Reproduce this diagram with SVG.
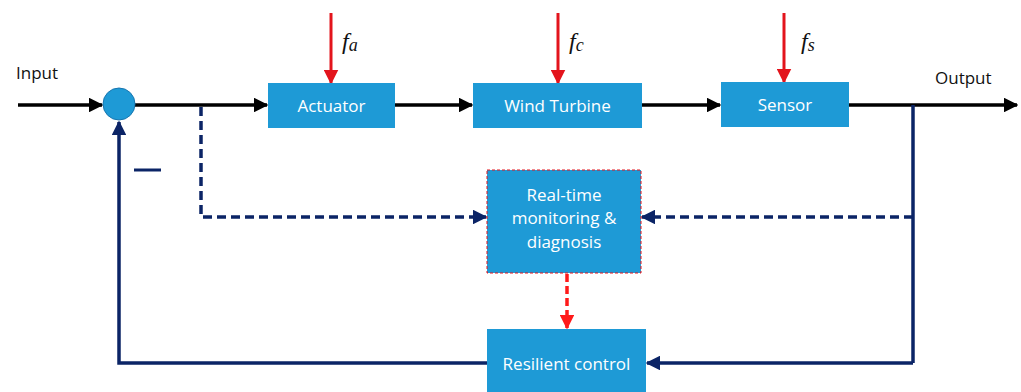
<svg xmlns="http://www.w3.org/2000/svg" width="1021" height="392" viewBox="0 0 1021 392">
<defs>
<style>
.box{fill:#1e9ad6;}
.lbl{font-family:"Open Sans","Liberation Sans",sans-serif;font-size:17px;fill:#ffffff;text-anchor:middle;}
.io{font-family:"Open Sans","Liberation Sans",sans-serif;font-size:17px;fill:#111111;}
.blk{stroke:#000000;stroke-width:3.5;fill:none;}
.navy{stroke:#0b2466;stroke-width:3.5;fill:none;}
.dash{stroke:#0b2466;stroke-width:3.5;fill:none;stroke-dasharray:9,5;}
.red{stroke:#e3141c;stroke-width:3;fill:none;}
.reddash{stroke:#ff1a1a;stroke-width:3.5;fill:none;stroke-dasharray:8,4;}
.fault{font-family:"Liberation Serif","DejaVu Serif",serif;font-style:italic;font-size:24px;fill:#111111;}
</style>
<marker id="ab" viewBox="0 0 10 10" refX="9" refY="5" markerWidth="4.2" markerHeight="4.2" orient="auto" markerUnits="strokeWidth"><path d="M0,0 L10,5 L0,10 z" fill="#000000"/></marker>
<marker id="an" viewBox="0 0 10 10" refX="9" refY="5" markerWidth="4.2" markerHeight="4.2" orient="auto" markerUnits="strokeWidth"><path d="M0,0 L10,5 L0,10 z" fill="#0b2466"/></marker>
<marker id="ar" viewBox="0 0 10 10" refX="9" refY="5" markerWidth="5" markerHeight="5" orient="auto" markerUnits="strokeWidth"><path d="M0,0 L10,5 L0,10 z" fill="#e3141c"/></marker>
<marker id="ard" viewBox="0 0 10 10" refX="9" refY="5" markerWidth="4.2" markerHeight="4.2" orient="auto" markerUnits="strokeWidth"><path d="M0,0 L10,5 L0,10 z" fill="#ff1a1a"/></marker>
</defs>
<rect width="1021" height="392" fill="#ffffff"/>

<g id="connectors">
<line class="blk" x1="18" y1="105" x2="102" y2="105" marker-end="url(#ab)"/>
<line class="blk" x1="135" y1="105" x2="267" y2="105" marker-end="url(#ab)"/>
<line class="blk" x1="395" y1="105" x2="472" y2="105" marker-end="url(#ab)"/>
<line class="blk" x1="642" y1="105" x2="720" y2="105" marker-end="url(#ab)"/>
<line class="blk" x1="849" y1="105" x2="1017" y2="105" marker-end="url(#ab)"/>
<line class="red" x1="331" y1="13" x2="331" y2="83" marker-end="url(#ar)"/>
<line class="red" x1="558" y1="13" x2="558" y2="83" marker-end="url(#ar)"/>
<line class="red" x1="784" y1="13" x2="784" y2="82" marker-end="url(#ar)"/>
<polyline class="dash" points="201,107 201,217 486,217" marker-end="url(#an)"/>
<line class="navy" x1="913" y1="105" x2="913" y2="363"/>
<line class="dash" x1="913" y1="217" x2="642" y2="217" marker-end="url(#an)"/>
<line class="navy" x1="913" y1="363" x2="647" y2="363" marker-end="url(#an)"/>
<polyline class="navy" points="487,363 119,363 119,122" marker-end="url(#an)"/>
<line class="reddash" x1="567" y1="274" x2="567" y2="328" marker-end="url(#ard)"/>
<line x1="134" y1="170" x2="161" y2="170" stroke="#0b2466" stroke-width="3"/>
</g>

<text class="io" x="16" y="79">Input</text>
<text class="io" x="935" y="84">Output</text>
<text class="fault" x="342" y="49">f<tspan font-size="18" dy="2">a</tspan></text>
<text class="fault" x="569" y="49">f<tspan font-size="18" dy="2">c</tspan></text>
<text class="fault" x="801" y="49">f<tspan font-size="18" dy="2">s</tspan></text>

<g id="sum">
<circle cx="119" cy="104" r="16" fill="#1e9ad6" stroke="#1776b0" stroke-width="1"/>
</g>
<g id="actuator">
<rect class="box" x="268" y="83" width="127" height="45"/>
<text class="lbl" x="331.5" y="112">Actuator</text>
</g>
<g id="wind-turbine">
<rect class="box" x="473" y="83" width="169" height="45"/>
<text class="lbl" x="557.5" y="112">Wind Turbine</text>
</g>
<g id="sensor">
<rect class="box" x="721" y="82" width="128" height="45"/>
<text class="lbl" x="785" y="111">Sensor</text>
</g>
<g id="monitoring">
<rect class="box" x="487" y="170" width="154" height="103" stroke="#e3141c" stroke-width="1" stroke-dasharray="3,2"/>
<text class="lbl" x="564" y="201">Real-time</text>
<text class="lbl" x="564" y="224">monitoring &amp;</text>
<text class="lbl" x="564" y="248">diagnosis</text>
</g>
<g id="resilient-control">
<rect class="box" x="487" y="329" width="159" height="66"/>
<text class="lbl" x="566.5" y="370">Resilient control</text>
</g>
</svg>
